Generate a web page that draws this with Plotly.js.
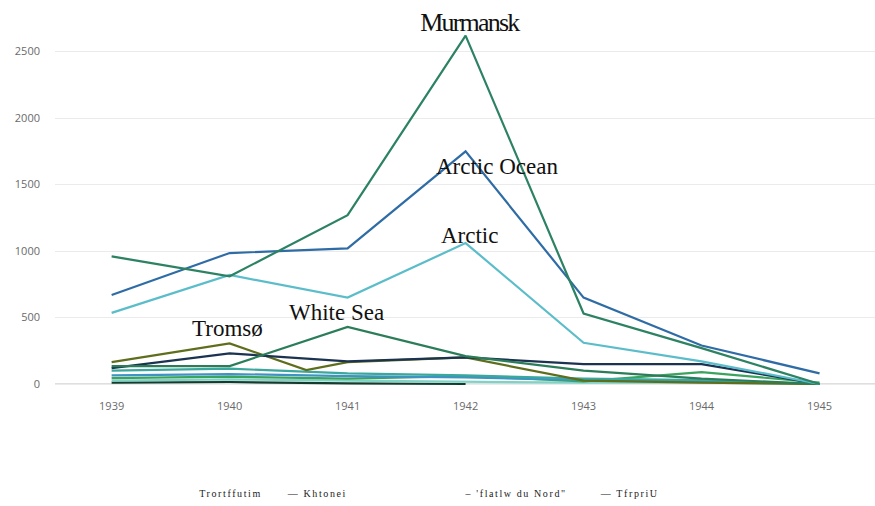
<!DOCTYPE html>
<html>
<head>
<meta charset="utf-8">
<script src="https://cdn.plot.ly/plotly-3.0.1.min.js"></script>
<style>html,body{margin:0;padding:0;background:#fff;}#chart{width:875px;height:506px;}</style>
</head>
<body>
<div id="chart"></div>
<script>
// ---- data ----
const years = [1939, 1940, 1941, 1942, 1943, 1944, 1945];
const murmansk    = [960, 810, 1270, 2620, 530, 270, 0];
const arcticOcean = [670, 985, 1020, 1750, 650, 290, 80];
const arctic      = [535, 820, 650, 1060, 310, 170, 0];
const whiteSea    = [135, 135, 430, 210, 100, 40, 0];
const navyLine    = [120, 230, 170, 200, 150, 150, 0];
const tromsoYears = [1939, 1940, 1940.65, 1941, 1942, 1943, 1944, 1945];
const tromso      = [165, 305, 105, 165, 200, 25, 10, 0];
const small1      = [100, 115, 80, 65, 40, 30, 0];
const small2      = [65, 75, 60, 50, 30, 20, 0];
const small3      = [45, 55, 40, 60, 20, 90, 10];
const small4      = [25, 35, 25, 15, 10, 10, 0];
const small5      = [10, 15, 5, 0, null, null, null];
const yTicks = [0, 500, 1000, 1500, 2000, 2500];
const legendLabels = ["Trortffutim", "\u2014 Khtonei", "\u2013 'flatlw du Nord\"", "\u2014 TfrpriU"];

function tr(x, y, color, w) {
  return {x: x, y: y, type: 'scatter', mode: 'lines', line: {color: color, width: w || 2.2}, hoverinfo: 'skip', showlegend: false};
}
const traces = [
  tr(years, small5, '#123d2e'),
  tr(years, small4, '#7fd3c6'),
  tr(years, small3, '#3aa35e'),
  tr(years, small2, '#3f92c4'),
  tr(years, small1, '#3aa89c'),
  tr(tromsoYears, tromso, '#5e6e1c'),
  tr(years, navyLine, '#1b3350'),
  tr(years, whiteSea, '#2b7d5a'),
  tr(years, arctic, '#5bbdca'),
  tr(years, arcticOcean, '#2f6ca6'),
  tr(years, murmansk, '#2c8262')
];

const serif = 'Liberation Serif, Times New Roman, serif';
const annots = [
  {text: 'Arctic Ocean', x: 1942.27, y: 1634, size: 23},
  {text: 'Arctic', x: 1942.03, y: 1114, size: 23},
  {text: 'White Sea', x: 1940.91, y: 535, size: 23},
  {text: 'Tromsø', x: 1939.98, y: 414, size: 23}
].map(a => ({
  text: a.text, x: a.x, y: a.y, xref: 'x', yref: 'y', showarrow: false,
  xanchor: 'center', yanchor: 'middle', font: {family: serif, size: a.size, color: '#111'}
}));
annots.push({text: 'Murmansk', x: 0.506, y: 1.008, xref: 'paper', yref: 'paper', showarrow: false,
  xanchor: 'center', yanchor: 'middle', font: {family: serif, size: 26, color: '#111'}});

const legX = [0.2146, 0.3195, 0.561, 0.701];
legendLabels.forEach((t, i) => {
  annots.push({text: t, x: legX[i], y: -0.292, xref: 'paper', yref: 'paper', showarrow: false,
    xanchor: 'center', yanchor: 'middle', font: {family: serif, size: 10, color: '#222'}});
});

const tickFont = {family: 'Open Sans, DejaVu Sans, sans-serif', size: 11, color: '#6a6a6a'};
const layout = {
  width: 875, height: 506,
  margin: {l: 55, r: 0, t: 25, b: 118},
  paper_bgcolor: '#fff', plot_bgcolor: '#fff',
  showlegend: false,
  xaxis: {
    range: [1938.52, 1945.47], tickvals: years, ticktext: years.map(String),
    showgrid: false, zeroline: false, showline: false, ticks: '',
    tickfont: tickFont, ticklabelstandoff: 10
  },
  yaxis: {
    range: [-30, 2700], tickvals: yTicks, ticktext: yTicks.map(String),
    showgrid: true, gridcolor: '#ebebeb', gridwidth: 1, zeroline: false, showline: false, ticks: '',
    tickfont: tickFont, ticklabelstandoff: 14
  },
  shapes: [{type: 'line', xref: 'paper', yref: 'y', x0: 0, x1: 1, y0: 0, y1: 0, line: {color: '#d4d4d4', width: 1.5}, layer: 'below'}],
  annotations: annots
};

Plotly.newPlot('chart', traces, layout, {displayModeBar: false, staticPlot: true}).then(() => {
  const texts = document.querySelectorAll('.annotation-text');
  texts.forEach(t => {
    const s = t.textContent;
    if (s === 'Murmansk') t.style.letterSpacing = '-1.8px';
    else if (legendLabels.includes(s)) t.style.letterSpacing = '1.6px';
  });
});
</script>
</body>
</html>
